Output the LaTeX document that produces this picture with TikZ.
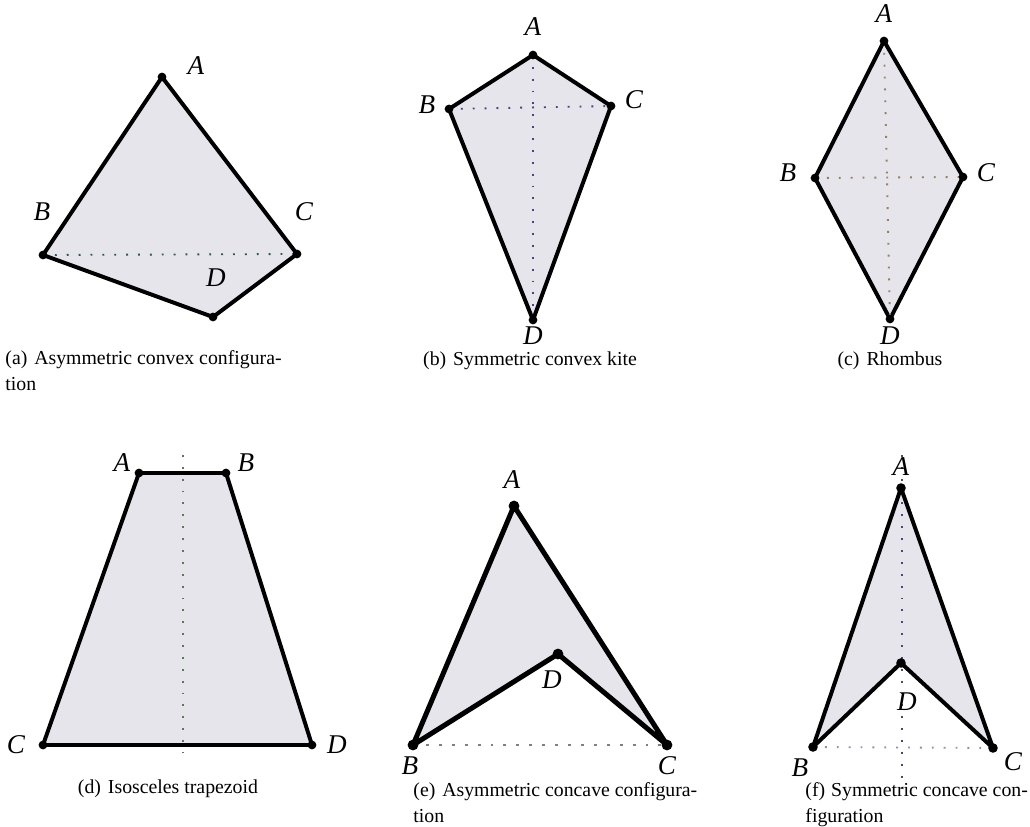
\documentclass[tikz,border=0pt]{standalone}
\usepackage{fontspec}
\setmainfont{Liberation Serif}
\definecolor{quadfill}{RGB}{229,229,235}
\definecolor{diagteal}{RGB}{40,90,90}
\definecolor{diagblue}{RGB}{70,70,130}
\definecolor{diagbrown}{RGB}{150,130,90}
\definecolor{diaggreen}{RGB}{90,120,90}
\tikzset{
  quad/.style={fill=quadfill,draw=black,line width=1.9pt,line join=round},
  diag/.style={line width=0.9pt,dash pattern=on 0.9pt off 4.8pt},
  vlabel/.style={font=\fontsize{13}{13}\selectfont\itshape},
  capt/.style={align=left,anchor=north west,inner sep=0pt,font=\fontsize{9.5}{12.5}\selectfont},
  captc/.style={inner sep=0pt,font=\fontsize{9.5}{12.5}\selectfont},
}
\newcommand{\vdot}[1]{\fill (#1) circle[radius=2.1pt];}
\begin{document}
\begin{tikzpicture}[x=0.48pt,y=-0.48pt]
    \useasboundingbox (0,0) rectangle (1030,827);
    % (a)
    \coordinate (aA) at (162,77);
    \coordinate (aB) at (43,255);
    \coordinate (aC) at (297,254);
    \coordinate (aD) at (213,317);
    \draw[quad] (aA) -- (aC) -- (aD) -- (aB) -- cycle;
    \draw[diag,diagteal] (aB) -- (aC);
    \foreach \p in {aA,aB,aC,aD} {\vdot{\p}}
    \node[vlabel] (laA) at (196,66) {A};
    \node[vlabel] (laB) at (42,212) {B};
    \node[vlabel] (laC) at (304,212) {C};
    \node[vlabel] (laD) at (216,278) {D};
    \node[capt] (capa) at (5,350) {(a)\hspace{0.35em}Asymmetric convex configura-\\tion};
    % (b)
    \coordinate (bA) at (533,55);
    \coordinate (bB) at (449,109);
    \coordinate (bC) at (611,106);
    \coordinate (bD) at (533,320);
    \draw[quad] (bA) -- (bC) -- (bD) -- (bB) -- cycle;
    \draw[diag,diagblue] (bB) -- (bC);
    \draw[diag,diagblue] (bA) -- (bD);
    \foreach \p in {bA,bB,bC,bD} {\vdot{\p}}
    \node[vlabel] (lbA) at (533,27) {A};
    \node[vlabel] (lbB) at (427,105) {B};
    \node[vlabel] (lbC) at (634,100) {C};
    \node[vlabel] (lbD) at (533,336) {D};
    \node[captc] (capb) at (530,361) {(b)\hspace{0.35em}Symmetric convex kite};
    % (c)
    \coordinate (cA) at (884,41);
    \coordinate (cB) at (815,178);
    \coordinate (cC) at (963,177);
    \coordinate (cD) at (890,319);
    \draw[quad] (cA) -- (cC) -- (cD) -- (cB) -- cycle;
    \draw[diag,diagbrown] (cB) -- (cC);
    \draw[diag,diagbrown] (cA) -- (cD);
    \foreach \p in {cA,cB,cC,cD} {\vdot{\p}}
    \node[vlabel] (lcA) at (884,14) {A};
    \node[vlabel] (lcB) at (788,173) {B};
    \node[vlabel] (lcC) at (986,173) {C};
    \node[vlabel] (lcD) at (890,336) {D};
    \node[captc] (capc) at (890,361) {(c)\hspace{0.35em}Rhombus};
    % (d)
    \coordinate (dA) at (139,473);
    \coordinate (dB) at (226,473);
    \coordinate (dC) at (43,745);
    \coordinate (dD) at (312,745);
    \coordinate (dT) at (183,455);
    \coordinate (dU) at (183,752);
    \draw[quad] (dA) -- (dB) -- (dD) -- (dC) -- cycle;
    \draw[diag,diaggreen] (dT) -- (dU);
    \foreach \p in {dA,dB,dC,dD} {\vdot{\p}}
    \node[vlabel] (ldA) at (122,463) {A};
    \node[vlabel] (ldB) at (246,463) {B};
    \node[vlabel] (ldC) at (16,745) {C};
    \node[vlabel] (ldD) at (337,745) {D};
    \node[captc] (capd) at (168,789) {(d)\hspace{0.35em}Isosceles trapezoid};
    % (e)
    \coordinate (eA) at (514,506);
    \coordinate (eB) at (413,745);
    \coordinate (eC) at (667,745);
    \coordinate (eD) at (558,654);
    \draw[quad,line width=2.4pt] (eA) -- (eC) -- (eD) -- (eB) -- cycle;
    \draw[diag,gray,line width=1.4pt,dash pattern=on 1.4pt off 4.8pt] (eB) -- (eC);
    \foreach \p in {eA,eB,eC,eD} {\fill (\p) circle[radius=2.6pt];}
    \node[vlabel] (leA) at (512,480) {A};
    \node[vlabel] (leB) at (410,766) {B};
    \node[vlabel] (leC) at (667,766) {C};
    \node[vlabel] (leD) at (552,680) {D};
    \node[capt] (cape) at (413,782) {(e)\hspace{0.35em}Asymmetric concave configura-\\tion};
    % (f)
    \coordinate (fA) at (901,488);
    \coordinate (fB) at (813,747);
    \coordinate (fC) at (993,748);
    \coordinate (fD) at (901,663);
    \coordinate (fT) at (902,455);
    \coordinate (fU) at (902,795);
    \draw[quad] (fA) -- (fC) -- (fD) -- (fB) -- cycle;
    \draw[diag,diagblue] (fT) -- (fU);
    \draw[diag,diagblue!60] (fB) -- (fC);
    \foreach \p in {fA,fB,fC,fD} {\fill (\p) circle[radius=2.3pt];}
    \node[vlabel] (lfA) at (901,467) {A};
    \node[vlabel] (lfB) at (800,768) {B};
    \node[vlabel] (lfC) at (1013,762) {C};
    \node[vlabel] (lfD) at (907,702) {D};
    \node[capt] (capf) at (805,782) {(f)\hspace{0.3em}Symmetric concave con-\\figuration};
\end{tikzpicture}
\end{document}
